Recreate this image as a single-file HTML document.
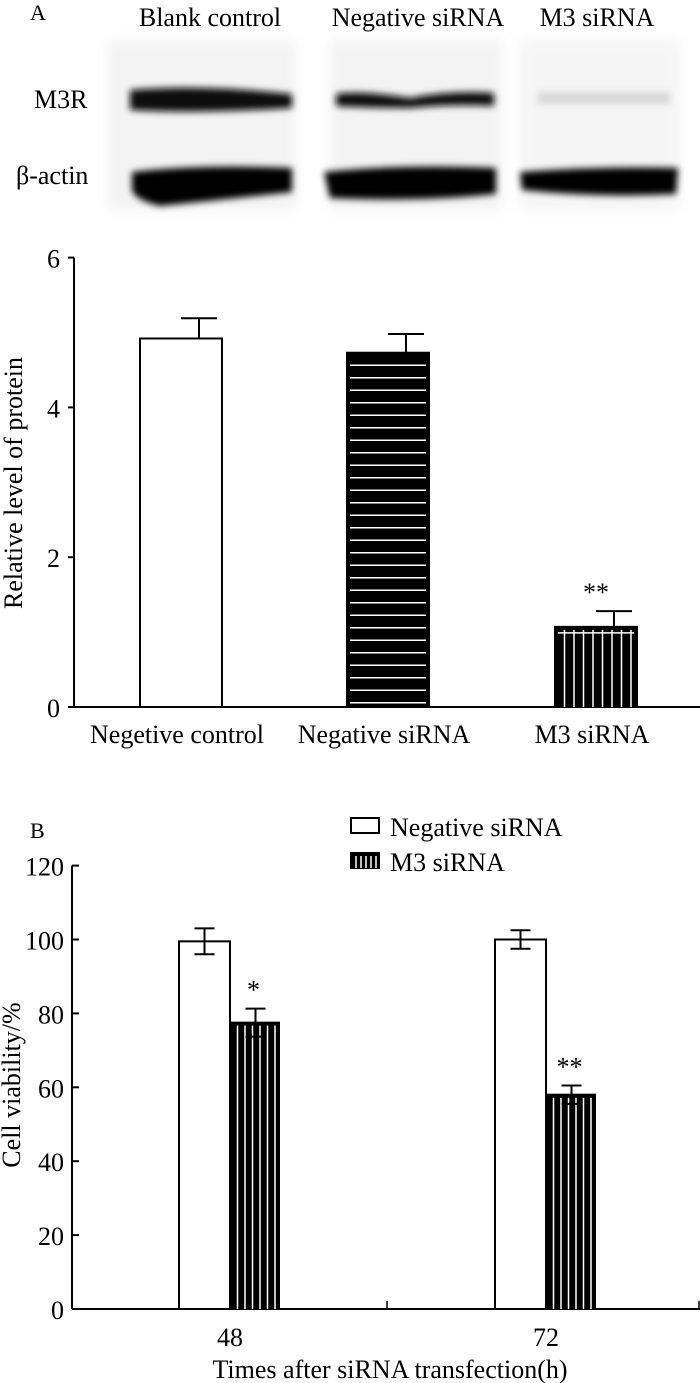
<!DOCTYPE html>
<html><head><meta charset="utf-8"><style>
html,body{margin:0;padding:0;background:#fff}
svg{display:block}
text{font-family:"Liberation Serif",serif;fill:#000}
</style></head><body>
<svg id="fig" width="700" height="1383" viewBox="0 0 700 1383" xmlns="http://www.w3.org/2000/svg">
<defs>
<filter id="blur" x="-20%" y="-100%" width="140%" height="300%"><feGaussianBlur stdDeviation="3.5"/></filter>
<filter id="blur2" x="-20%" y="-20%" width="140%" height="140%"><feGaussianBlur stdDeviation="6"/></filter>
</defs>
<g>
<text x="30" y="20" font-size="22">A</text>
<text x="210" y="26" font-size="26" text-anchor="middle">Blank control</text>
<text x="418" y="26" font-size="26" text-anchor="middle">Negative siRNA</text>
<text x="597" y="26" font-size="26" text-anchor="middle">M3 siRNA</text>
<text x="34" y="108" font-size="26">M3R</text>
<text x="16" y="184" font-size="26">β-actin</text>
<rect x="108" y="40" width="188" height="170" fill="#f3f3f3" filter="url(#blur2)"/>
<rect x="330" y="40" width="172" height="170" fill="#f3f3f3" filter="url(#blur2)"/>
<rect x="520" y="40" width="160" height="170" fill="#f5f5f5" filter="url(#blur2)"/>
<path d="M130 90 Q200 84 292 94 L292 108 Q200 114 130 110 Z" fill="#0a0a0a" filter="url(#blur)"/>
<path d="M336 94 Q360 90 410 98 Q450 90 494 93 L494 106 Q450 104 410 108 Q360 108 336 106 Z" fill="#111" filter="url(#blur)"/>
<rect x="538" y="92" width="132" height="12" fill="#d8d8d8" filter="url(#blur)"/>
<path d="M132 172 Q200 164 292 168 L292 192 Q220 200 160 206 Q135 200 132 190 Z" fill="#050505" filter="url(#blur)"/>
<path d="M324 172 Q400 164 496 168 L496 194 Q420 202 330 198 Z" fill="#050505" filter="url(#blur)"/>
<path d="M520 172 Q600 166 678 168 L676 194 Q600 198 522 190 Z" fill="#050505" filter="url(#blur)"/>
</g>
<g id="chartA"></g>
<g id="chartB"></g>
</svg>
<script>
const NS="http://www.w3.org/2000/svg";
const aCategories=["Negetive control","Negative siRNA","M3 siRNA"];
const aValues=[4.92,4.73,1.07];
const aErrors=[0.27,0.25,0.21];
const aSig=["","","**"];
const aTicks=[0,2,4,6];
const bCategories=["48","72"];
const bSeries=["Negative siRNA","M3 siRNA"];
const bNeg=[99.5,100];
const bNegErr=[3.5,2.5];
const bM3=[77.5,58];
const bM3Err=[3.8,2.5];
const bSig=["*","**"];
const bTicks=[0,20,40,60,80,100,120];
const FS=26;

function mk(parent,tag,attrs,text){const e=document.createElementNS(NS,tag);for(const k in attrs)e.setAttribute(k,attrs[k]);if(text!==undefined)e.textContent=text;parent.appendChild(e);return e;}
function patternBar(g,x,y,w,h,type,step){
  const r=mk(g,'rect',{x:x,y:y,width:w,height:h,fill:type==='none'?'#fff':'#000',stroke:'#000','stroke-width':2});
  if(type==='h'){for(let yy=y+step;yy<y+h-2;yy+=step)mk(g,'line',{x1:x+3,x2:x+w-3,y1:yy,y2:yy,stroke:'#fff','stroke-width':1.5});}
  if(type==='v'){for(let xx=x+step;xx<x+w-2;xx+=step)mk(g,'line',{x1:xx,x2:xx,y1:y+3,y2:y+h,stroke:'#fff','stroke-width':1.5});}
  return r;
}
function errBar(g,cx,yTop,yVal,hw){mk(g,'line',{x1:cx,x2:cx,y1:yTop,y2:yVal,stroke:'#000','stroke-width':2});mk(g,'line',{x1:cx-hw,x2:cx+hw,y1:yTop,y2:yTop,stroke:'#000','stroke-width':2});}

// Chart A
(function(){
  const g=document.getElementById('chartA');
  const x0=74,x1=700,y0=707,ppu=74.9;
  const y=v=>y0-v*ppu;
  const centers=[181,388,596],bw=82;
  const types=['none','h','v'];
  mk(g,'line',{x1:x0,x2:x0,y1:y(6),y2:y0,stroke:'#000','stroke-width':2});
  mk(g,'line',{x1:x0,x2:x1,y1:y0,y2:y0,stroke:'#000','stroke-width':2});
  aTicks.forEach(t=>{mk(g,'line',{x1:x0-6,x2:x0,y1:y(t),y2:y(t),stroke:'#000','stroke-width':2});
    const tx=mk(g,'text',{x:x0-14,y:y(t)+10,'font-size':FS,'text-anchor':'end'},String(t));
    
    });
  aValues.forEach((v,i)=>{
    errBar(g,centers[i]+18,y(v+aErrors[i]),y(v),18);
    const b=patternBar(g,centers[i]-bw/2,y(v),bw,y0-y(v),types[i],types[i]==='h'?12.5:9.5);
    
    
    if(types[i]==='v')mk(g,'line',{x1:centers[i]-bw/2+3,x2:centers[i]+bw/2-3,y1:y(v)+6,y2:y(v)+6,stroke:'#fff','stroke-width':1.5});
    if(aSig[i]){const s=mk(g,'text',{x:centers[i],y:y(v+aErrors[i])-10,'font-size':FS,'text-anchor':'middle'},aSig[i]);
      
      }
    const c=mk(g,'text',{x:centers[i]-4,y:743,'font-size':FS,'text-anchor':'middle'},aCategories[i]);
    
    
  });
  const t=mk(g,'text',{x:22,y:483,'font-size':FS,'text-anchor':'middle',transform:'rotate(-90 22 483)'},'Relative level of protein');
  
  
})();

// Chart B
(function(){
  const g=document.getElementById('chartB');
  const x0=72,x1=700,y0=1309,ppu=3.695;
  const y=v=>y0-v*ppu;
  const centers=[230,546],bw=51;
  const lb=mk(g,'text',{x:30,y:838,'font-size':22},'B');
  
  
  mk(g,'line',{x1:x0,x2:x0,y1:y(120),y2:y0,stroke:'#000','stroke-width':2});
  mk(g,'line',{x1:x0,x2:x1,y1:y0,y2:y0,stroke:'#000','stroke-width':2});
  mk(g,'line',{x1:387,x2:387,y1:y0-8,y2:y0,stroke:'#000','stroke-width':1.5});
  mk(g,'line',{x1:699,x2:699,y1:y0-8,y2:y0,stroke:'#000','stroke-width':1.5});
  bTicks.forEach(t=>{mk(g,'line',{x1:x0,x2:x0+7,y1:y(t),y2:y(t),stroke:'#000','stroke-width':2});
    const tx=mk(g,'text',{x:x0-8,y:y(t)+10,'font-size':FS,'text-anchor':'end'},String(t));
    
    });
  bCategories.forEach((c,i)=>{
    const cx=centers[i];
    const b1=patternBar(g,cx-bw,y(bNeg[i]),bw,y0-y(bNeg[i]),'none',0);
    
    
    mk(g,'line',{x1:cx-bw/2,x2:cx-bw/2,y1:y(bNeg[i]+bNegErr[i]),y2:y(bNeg[i]-bNegErr[i]),stroke:'#000','stroke-width':2});
    mk(g,'line',{x1:cx-bw/2-10,x2:cx-bw/2+10,y1:y(bNeg[i]+bNegErr[i]),y2:y(bNeg[i]+bNegErr[i]),stroke:'#000','stroke-width':2});
    mk(g,'line',{x1:cx-bw/2-10,x2:cx-bw/2+10,y1:y(bNeg[i]-bNegErr[i]),y2:y(bNeg[i]-bNegErr[i]),stroke:'#000','stroke-width':2});
    const b2=patternBar(g,cx,y(bM3[i]),bw-2,y0-y(bM3[i]),'v',7.5);
    
    
    const mx=cx+bw/2;
    mk(g,'line',{x1:mx,x2:mx,y1:y(bM3[i]+bM3Err[i]),y2:y(bM3[i]-bM3Err[i]),stroke:'#000','stroke-width':2});
    mk(g,'line',{x1:mx-10,x2:mx+10,y1:y(bM3[i]+bM3Err[i]),y2:y(bM3[i]+bM3Err[i]),stroke:'#000','stroke-width':2});
    mk(g,'line',{x1:mx-10,x2:mx+10,y1:y(bM3[i]-bM3Err[i]),y2:y(bM3[i]-bM3Err[i]),stroke:'#000','stroke-width':2});
    const s=mk(g,'text',{x:mx-2,y:y(bM3[i]+bM3Err[i])-10,'font-size':FS,'text-anchor':'middle'},bSig[i]);
    
    
    const l=mk(g,'text',{x:cx,y:1346,'font-size':FS,'text-anchor':'middle'},c);
    
    
  });
  const xt=mk(g,'text',{x:390,y:1378,'font-size':FS,'text-anchor':'middle'},'Times after siRNA transfection(h)');
  
  
  const yt=mk(g,'text',{x:20,y:1085,'font-size':FS,'text-anchor':'middle',transform:'rotate(-90 20 1085)'},'Cell viability/%');
  
  
  const lg=mk(g,'g',{});
  
  
  patternBar(lg,351,818,28,15,'none',0);
  patternBar(lg,351,853,28,15,'v',5);
  const t1=mk(lg,'text',{x:390,y:836,'font-size':FS},bSeries[0]);
  
  
  const t2=mk(lg,'text',{x:390,y:871,'font-size':FS},bSeries[1]);
  
  
})();
</script>
</body></html>
